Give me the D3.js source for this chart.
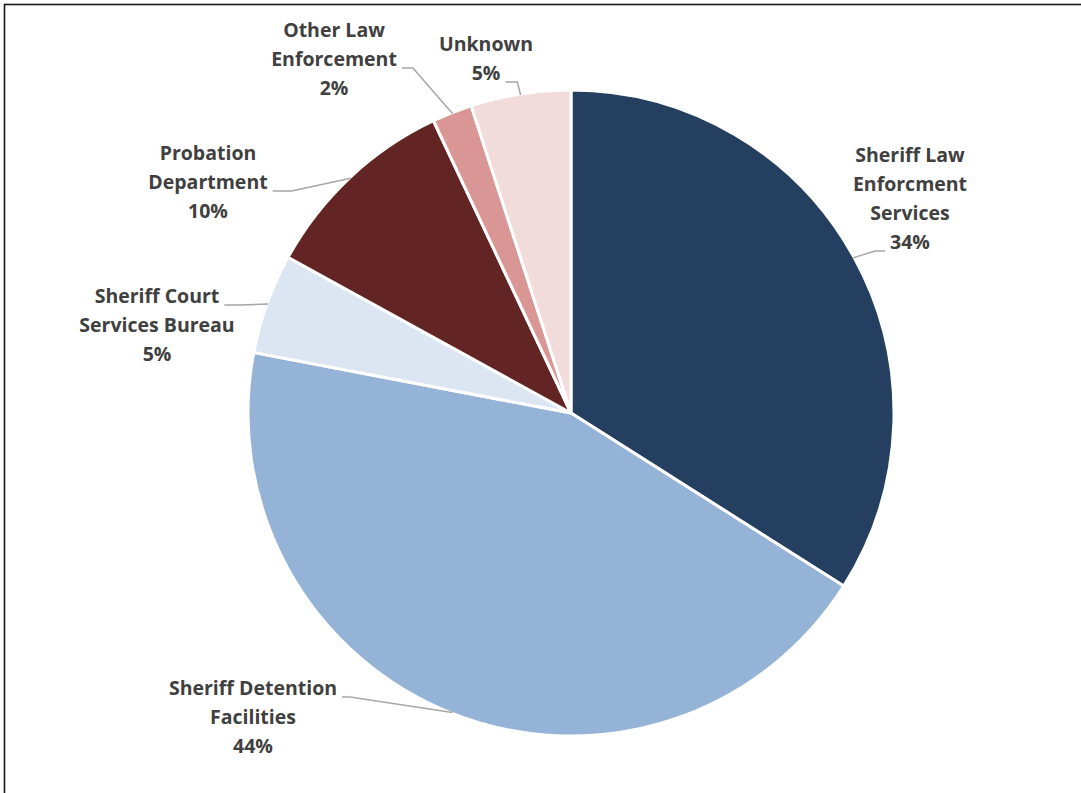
<!DOCTYPE html>
<html>
<head>
<meta charset="utf-8">
<script src="https://cdn.jsdelivr.net/npm/d3@7"></script>
<style>
  html, body { margin: 0; padding: 0; background: #fff; }
  svg { display: block; }
</style>
</head>
<body>
<svg id="chart" width="1081" height="793"></svg>
<script>
// Share of records by agency (percent), in clockwise order from 12 o'clock
const categories = [
  "Sheriff Law Enforcment Services",
  "Sheriff Detention Facilities",
  "Sheriff Court Services Bureau",
  "Probation Department",
  "Other Law Enforcement",
  "Unknown"
];
const values = [34, 44, 5, 10, 2, 5];

// Wrapped label lines for each category
const labelLines = [
  ["Sheriff Law", "Enforcment", "Services"],
  ["Sheriff Detention", "Facilities"],
  ["Sheriff Court", "Services Bureau"],
  ["Probation", "Department"],
  ["Other Law", "Enforcement"],
  ["Unknown"]
];

const colors = ["#253f61", "#95b3d7", "#dce6f2", "#632523", "#d99694", "#f2dcdb"];

// Label placement: centre x, first baseline, line that carries the leader,
// which side of that line the leader leaves from, and elbow length
const labelLayout = [
  { cx: 910, y0: 162, attach: 3, side: "left",  elbow: 10 },
  { cx: 253, y0: 695, attach: 0, side: "right", elbow: 8 },
  { cx: 157, y0: 303, attach: 0, side: "right", elbow: 15 },
  { cx: 208, y0: 160, attach: 1, side: "right", elbow: 19 },
  { cx: 334, y0: 37,  attach: 1, side: "right", elbow: 11 },
  { cx: 486, y0: 51,  attach: 1, side: "right", elbow: 12 }
];

const width = 1081, height = 793;
const cx = 571, cy = 413, radius = 323;
const lineHeight = 29;

const svg = d3.select("#chart");

// Outer frame
svg.append("rect")
  .attr("x", 4.5).attr("y", 4.5)
  .attr("width", width + 20).attr("height", height + 20)
  .attr("fill", "none")
  .attr("stroke", "#1a1a1a")
  .attr("stroke-width", 1.6);

const data = categories.map((c, i) => ({ name: c, value: values[i], i }));

const pie = d3.pie().value(d => d.value).sort(null);
const arcs = pie(data);

const arc = d3.arc().innerRadius(0).outerRadius(radius);
const edgeArc = d3.arc().innerRadius(radius - 1).outerRadius(radius - 1);

const g = svg.append("g").attr("transform", `translate(${cx},${cy})`);

g.selectAll("path.slice")
  .data(arcs)
  .join("path")
  .attr("class", "slice")
  .attr("d", arc)
  .attr("fill", d => colors[d.data.i])
  .attr("stroke", "#fff")
  .attr("stroke-width", 3)
  .attr("stroke-linejoin", "round");

// Labels
const labelG = svg.append("g")
  .attr("font-family", "'Open Sans', Lato, sans-serif")
  .attr("font-weight", "bold")
  .attr("font-size", 19.5)
  .attr("fill", "#404040")
  .attr("text-anchor", "middle");

const leaderG = svg.append("g")
  .attr("fill", "none")
  .attr("stroke", "#a6a6a6")
  .attr("stroke-width", 1.5);

arcs.forEach(a => {
  const i = a.data.i;
  const lay = labelLayout[i];
  const lines = labelLines[i].concat([d3.format(".0f")(a.data.value) + "%"]);
  const texts = lines.map((ln, k) =>
    labelG.append("text")
      .attr("x", lay.cx)
      .attr("y", lay.y0 + k * lineHeight)
      .text(ln)
  );
  const bb = texts[lay.attach].node().getBBox();
  const ly = lay.y0 + lay.attach * lineHeight + 2;
  const gap = 5;
  const x0 = lay.side === "right" ? bb.x + bb.width + gap : bb.x - gap;
  const x1 = lay.side === "right" ? x0 + lay.elbow : x0 - lay.elbow;
  const [ex, ey] = edgeArc.centroid(a);
  leaderG.append("polyline")
    .attr("points", [[x0, ly], [x1, ly], [cx + ex, cy + ey]].map(p => p.join(",")).join(" "));
});
</script>
</body>
</html>
